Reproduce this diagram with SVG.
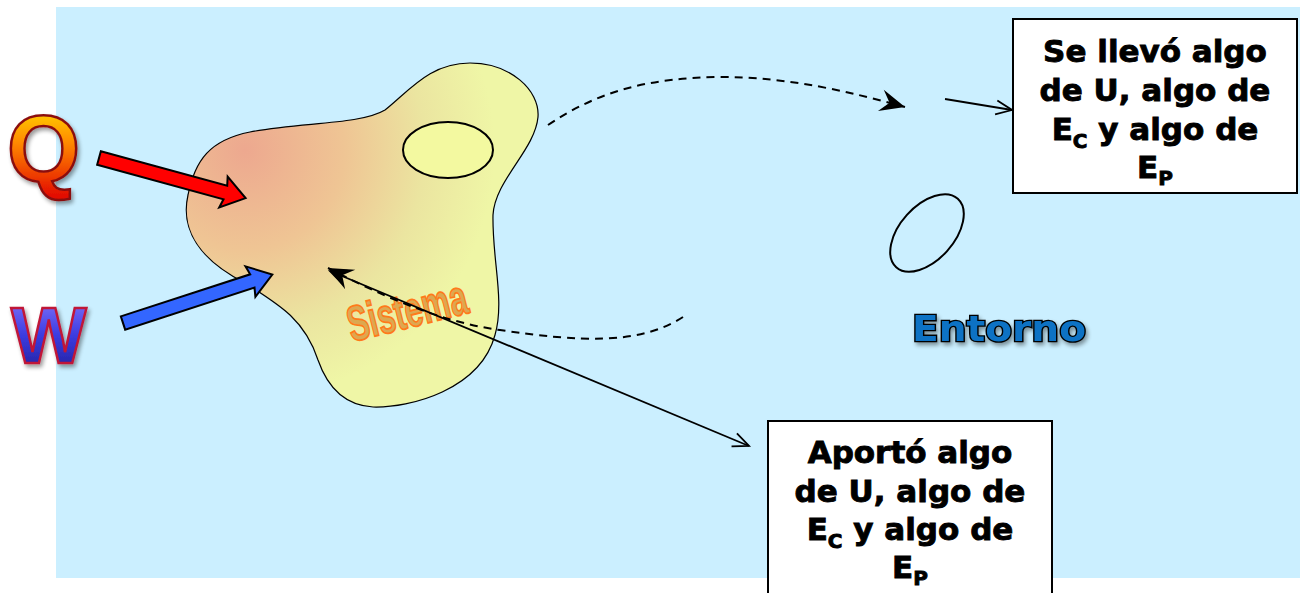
<svg xmlns="http://www.w3.org/2000/svg" width="1300" height="593" viewBox="0 0 1300 593">
<defs>
<style>
.box{fill:#fff;stroke:#000;stroke-width:2}
.bt{font-family:"DejaVu Sans",Verdana,sans-serif;font-weight:bold;font-size:31px;fill:#000;stroke:#000;stroke-width:0.9;text-anchor:middle}
.sub{font-size:20px}
.dash{fill:none;stroke:#000;stroke-width:2;stroke-dasharray:8 6}
.solid{fill:none;stroke:#000;stroke-width:1.8}
</style>
<radialGradient id="blobg" gradientUnits="userSpaceOnUse" cx="245" cy="150" r="250">
<stop offset="0" stop-color="#eda88f"/>
<stop offset="0.4" stop-color="#efc594"/>
<stop offset="0.72" stop-color="#ebe5a0"/>
<stop offset="1" stop-color="#eff6a6"/>
</radialGradient>
<linearGradient id="qg" x1="0" y1="0" x2="0" y2="1">
<stop offset="0" stop-color="#ffee00"/>
<stop offset="0.45" stop-color="#ff8800"/>
<stop offset="1" stop-color="#e00000"/>
</linearGradient>
<linearGradient id="wg" x1="0" y1="0" x2="0" y2="1">
<stop offset="0" stop-color="#8a7dff"/>
<stop offset="0.5" stop-color="#3b3be0"/>
<stop offset="1" stop-color="#1c1c90"/>
</linearGradient>
<filter id="sh" x="-10%" y="-10%" width="130%" height="140%">
<feGaussianBlur in="SourceAlpha" stdDeviation="2"/>
<feOffset dx="2" dy="3" result="b"/>
<feComponentTransfer><feFuncA type="linear" slope="0.4"/></feComponentTransfer>
<feMerge><feMergeNode/><feMergeNode in="SourceGraphic"/></feMerge>
</filter>
<marker id="stealth" markerUnits="userSpaceOnUse" markerWidth="30" markerHeight="26" refX="0" refY="0" viewBox="-26 -13 30 26" orient="auto">
<path d="M0,0 L-25,-11 L-16,0 L-25,11 Z" fill="#000"/>
</marker>
<marker id="open" markerUnits="userSpaceOnUse" markerWidth="24" markerHeight="24" refX="0" refY="0" viewBox="-20 -12 24 24" orient="auto">
<path d="M-16,-7 L0,0 L-16,7" fill="none" stroke="#000" stroke-width="1.8"/>
</marker>
<marker id="openS" markerUnits="userSpaceOnUse" markerWidth="24" markerHeight="24" refX="0" refY="0" viewBox="-20 -12 24 24" orient="auto-start-reverse">
<path d="M-16,-7 L0,0 L-16,7" fill="none" stroke="#000" stroke-width="1.8"/>
</marker>
</defs>

<rect x="56" y="7" width="1244" height="571" fill="#cbefff"/>

<g id="sistema">
<path d="M470,63 C510,63 540,90 538,117 C535,150 495,180 493,215 C492,260 505,300 495,335 C480,390 410,408 373,407 C340,405 325,380 318,360 C305,320 280,305 245,283 C200,260 180,230 188,195 C195,160 210,140 250,132 C300,122 360,125 385,110 C410,90 430,63 470,63 Z" fill="url(#blobg)" stroke="#000" stroke-width="1.2"/>
<ellipse cx="448" cy="150" rx="45" ry="28" fill="#f3f9a0" stroke="#000" stroke-width="2"/>
<text x="0" y="0" transform="translate(352,342) rotate(-14)" font-family="'Liberation Sans Narrow','Liberation Sans',sans-serif" font-weight="bold" font-size="50" fill="#dca850" stroke="#ff7a1a" stroke-width="1.8" textLength="122" lengthAdjust="spacingAndGlyphs">Sistema</text>
</g>

<g id="entorno-ellipse">
<ellipse cx="927" cy="233" rx="46" ry="27" transform="rotate(-48 927 233)" fill="none" stroke="#000" stroke-width="2"/>
</g>

<g id="entorno">
<text x="912" y="341" font-family="'DejaVu Sans',Verdana,sans-serif" font-weight="bold" font-size="36" fill="#0a72c4" stroke="#000" stroke-width="2.6" paint-order="stroke" filter="url(#sh)" textLength="174" lengthAdjust="spacingAndGlyphs">Entorno</text>
</g>

<g id="Q">
<text x="7" y="181" font-family="'Liberation Sans',Arial,sans-serif" font-weight="bold" font-size="94" fill="url(#qg)" stroke="#8b1010" stroke-width="2.5" filter="url(#sh)">Q</text>
</g>
<g id="W">
<text x="11" y="363" font-family="'Liberation Sans',Arial,sans-serif" font-weight="bold" font-size="80" fill="url(#wg)" stroke="#c01838" stroke-width="2.5" filter="url(#sh)">W</text>
</g>

<g id="arrow-q">
<polygon transform="translate(99,158) rotate(15.3)" points="0,-7 131,-7 129,-16 152,0 129,16 131,7 0,7" fill="#ff0000" stroke="#000" stroke-width="2"/>
</g>
<g id="arrow-w">
<polygon transform="translate(123,323) rotate(-18)" points="0,-7 136,-7 134,-16 157,0 134,16 136,7 0,7" fill="#3366ff" stroke="#000" stroke-width="2"/>
</g>

<g id="box-top">
<rect class="box" x="1013" y="19" width="284" height="174"/>
<text class="bt" x="1155" y="62">Se llevó algo</text>
<text class="bt" x="1155" y="101">de U, algo de</text>
<text class="bt" x="1155" y="140">E<tspan class="sub" dy="8">C</tspan><tspan dy="-8"> y algo de</tspan></text>
<text class="bt" x="1155" y="178">E<tspan class="sub" dy="7">P</tspan></text>
</g>

<g id="box-bottom">
<rect class="box" x="768" y="421" width="284" height="190"/>
<text class="bt" x="910" y="463">Aportó algo</text>
<text class="bt" x="910" y="502">de U, algo de</text>
<text class="bt" x="910" y="540">E<tspan class="sub" dy="8">C</tspan><tspan dy="-8"> y algo de</tspan></text>
<text class="bt" x="910" y="578">E<tspan class="sub" dy="7">P</tspan></text>
</g>

<g id="connectors">
<path class="dash" d="M548,125 C600,90 650,78 720,77 C790,77 850,92 905,107" marker-end="url(#stealth)"/>
<line class="solid" x1="945" y1="99" x2="1012" y2="110" marker-end="url(#open)"/>
<path class="dash" d="M683,317 C640,345 580,342 500,330 C440,322 380,295 328,268" marker-end="url(#stealth)"/>
<line class="solid" x1="330" y1="271" x2="749" y2="446" marker-end="url(#open)" marker-start="url(#openS)"/>
</g>
</svg>
